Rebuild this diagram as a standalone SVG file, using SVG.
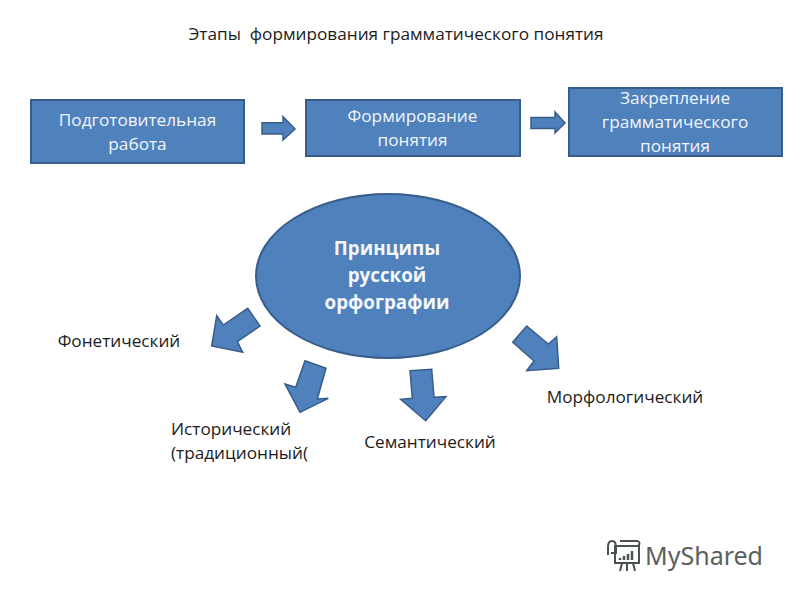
<svg xmlns="http://www.w3.org/2000/svg" width="800" height="600" viewBox="0 0 800 600">
<style>
text{font-family:"Open Sans","Noto Sans","Liberation Sans",sans-serif;text-anchor:middle}
.box{fill:#4f81bd;stroke:#385d8a;stroke-width:2}
.arr{fill:#4f81bd;stroke:#385d8a;stroke-width:1.5;stroke-linejoin:miter}
.w{fill:#f2f6fb;font-size:17.2px}
.k{fill:#1c1c1c;font-size:17.2px}
</style>
<rect width="800" height="600" fill="#fff"/>
<text class="k" x="396" y="40" style="white-space:pre">Этапы  формирования грамматического понятия</text>
<g id="connectors">
<polygon class="arr" points="262,122.7 283,122.7 283,116.7 295,129 283,140 283,134 262,134"/>
<polygon class="arr" points="531,117.5 555,117.5 555,112 565,123 555,133 555,128.5 531,128.5"/>
<polygon class="arr" points="247.7,308.3 260,326 237.3,341.7 242.7,352.3 211.7,346 216.7,315.7 223.3,325"/>
<polygon class="arr" points="305,360.7 326,368.3 317.3,399 328.3,398.3 300,412.3 285,384 295.7,387.3"/>
<polygon class="arr" points="410,370.7 431.7,369.3 434,397.3 446,396.7 425.7,420.7 400.7,399.3 412.3,398.3"/>
<polygon class="arr" points="526.7,326 548.3,344 556.7,336.7 558.7,368.3 526.7,370.7 534,361 512.7,342.3"/>
</g>
<g id="node-prep"><rect class="box" x="31" y="100" width="213" height="63"/>
<text class="w" x="137.500" y="126">Подготовительная</text><text class="w" x="137.500" y="150">работа</text></g>
<g id="node-form"><rect class="box" x="306" y="100" width="214" height="56"/>
<text class="w" x="412.500" y="122">Формирование</text><text class="w" x="412.500" y="146">понятия</text></g>
<g id="node-fix"><rect class="box" x="569" y="88" width="213" height="68"/>
<text class="w" x="675" y="104">Закрепление</text><text class="w" x="675" y="128">грамматического</text><text class="w" x="675" y="152">понятия</text></g>
<g id="node-center"><ellipse class="box" cx="388" cy="276" rx="132" ry="82"/>
<g style="fill:#f4f7fb;font-size:18.8px;font-weight:700"><text x="387" y="255">Принципы</text><text x="387" y="282">русской</text><text x="387" y="309">орфографии</text></g></g>
<g id="node-phon"><text class="k" x="119" y="347">Фонетический</text></g>
<g id="node-hist"><text class="k" x="171" y="435" style="text-anchor:start">Исторический</text><text class="k" x="171" y="459" style="text-anchor:start">(традиционный(</text></g>
<g id="node-sem"><text class="k" x="430" y="448">Семантический</text></g>
<g id="node-morph"><text class="k" x="625" y="403">Морфологический</text></g>
<g id="logo" fill="none" stroke="#4a5350" stroke-width="2">
<path d="M620 541H638M612 541c-3 0-4 3-4 6v8M612 541c4 0 4 4 4 8v4h-5M638 541q3 2 0 5H616"/>
<rect x="615" y="546" width="24" height="17"/>
<path d="M622 563l-2 8M627 563v8M633 563l2 8"/>
<path d="M620 560v-2M624 560v-4M628 560v-6M632 560v-9" stroke-width="2.500"/>
<text x="704" y="565" style="font-size:25px;fill:#5a605e;stroke:none;font-family:'Noto Sans',sans-serif">MyShared</text>
</g>
</svg>
